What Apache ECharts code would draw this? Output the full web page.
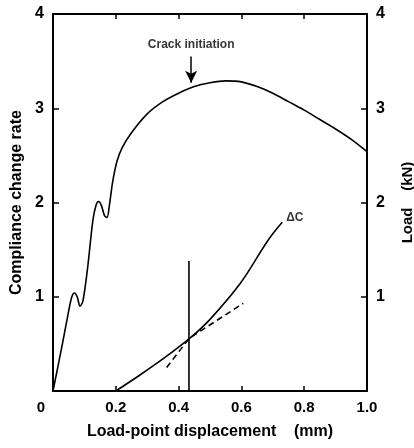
<!DOCTYPE html>
<html>
<head>
<meta charset="utf-8">
<script src="https://cdn.jsdelivr.net/npm/echarts@6/dist/echarts.min.js"></script>
<style>html,body{margin:0;padding:0;background:#fff}#c{width:414px;height:448px}</style>
</head>
<body>
<div id="c"></div>
<script>
// Load curve (right axis, kN) vs load-point displacement (mm)
const loadX = [0, 0.03, 0.05, 0.06, 0.068, 0.077, 0.086, 0.095, 0.11, 0.127, 0.137, 0.145, 0.154, 0.164, 0.172, 0.18, 0.19, 0.204, 0.22, 0.25, 0.3, 0.35, 0.4, 0.45, 0.5, 0.55, 0.6, 0.65, 0.7, 0.75, 0.8, 0.85, 0.9, 0.95, 1.0];
const loadY = [0, 0.5, 0.85, 1.0, 1.04, 1.0, 0.9, 0.95, 1.3, 1.81, 1.97, 2.01, 1.97, 1.86, 1.84, 1.98, 2.22, 2.44, 2.58, 2.74, 2.94, 3.07, 3.16, 3.23, 3.27, 3.29, 3.28, 3.23, 3.16, 3.07, 2.98, 2.88, 2.78, 2.67, 2.54];
// Compliance change rate ΔC (left axis)
const dcX = [0.2, 0.277, 0.35, 0.436, 0.5, 0.596, 0.685, 0.73];
const dcY = [0, 0.17, 0.34, 0.56, 0.76, 1.14, 1.6, 1.79];
// Crack initiation vertical line and tangent lines (dashed)
const crackX = [0.433, 0.433];
const crackY = [0, 1.38];
const tanX = [0.362, 0.434, 0.606];
const tanY = [0.25, 0.56, 0.93];
// Crack initiation arrow and labels
const arrowStart = [0.44, 3.55];
const arrowEnd = [0.44, 3.27];
const crackLabelPos = [0.44, 3.67];
const dcLabelPos = [0.77, 1.84];
const yTicks = [1, 2, 3, 4];

const zip = (a, b) => a.map((v, i) => [v, b[i]]);
const F = 'Liberation Sans, Arial, sans-serif';
const chart = echarts.init(document.getElementById('c'), null, {renderer: 'canvas'});
const lineAx = {show: true, onZero: false, lineStyle: {color: '#000', width: 2}};
const tick = {show: true, inside: true, length: 5, lineStyle: {color: '#000', width: 1.5}};
chart.setOption({
  animation: false,
  backgroundColor: '#fff',
  grid: {left: 53, right: 47, top: 14, bottom: 57, containLabel: false, outerBoundsMode: 'none'},
  xAxis: [{
    type: 'value', min: 0, max: 1, interval: 0.2, position: 'bottom',
    axisLine: lineAx, axisTick: tick, splitLine: {show: false},
    axisLabel: {
      color: '#000', fontFamily: F, fontWeight: 'bold', fontSize: 15, margin: 9,
      formatter: v => v === 0 ? '{z|0}' : v.toFixed(1),
      rich: {z: {fontFamily: F, fontWeight: 'bold', fontSize: 15, color: '#000', padding: [0, 24, 0, 0]}}
    },
    name: 'Load-point displacement    (mm)', nameLocation: 'middle', nameGap: 33,
    nameTextStyle: {color: '#000', fontFamily: F, fontWeight: 'bold', fontSize: 16}
  }, {
    type: 'value', min: 0, max: 1, interval: 0.2, position: 'top',
    axisLine: lineAx, axisTick: tick,
    axisLabel: {show: false}, splitLine: {show: false}
  }],
  yAxis: [{
    type: 'value', min: 0, max: 4, interval: 1, position: 'left',
    axisLine: lineAx, axisTick: Object.assign({}, tick, {length: 6}), splitLine: {show: false},
    axisLabel: {color: '#000', fontFamily: F, fontWeight: 'bold', fontSize: 16, margin: 9, showMinLabel: false,
      formatter: v => yTicks.includes(v) ? String(v) : ''},
    name: 'Compliance change rate', nameLocation: 'middle', nameGap: 26, nameRotate: 90,
    nameTextStyle: {color: '#000', fontFamily: F, fontWeight: 'bold', fontSize: 16}
  }, {
    type: 'value', min: 0, max: 4, interval: 1, position: 'right',
    axisLine: lineAx, axisTick: Object.assign({}, tick, {length: 6}), splitLine: {show: false},
    axisLabel: {color: '#000', fontFamily: F, fontWeight: 'bold', fontSize: 16, margin: 9, showMinLabel: false,
      formatter: v => yTicks.includes(v) ? String(v) : ''},
    name: 'Load    (kN)', nameLocation: 'middle', nameGap: 33, nameRotate: 90,
    nameTextStyle: {color: '#000', fontFamily: F, fontWeight: 'bold', fontSize: 15}
  }],
  series: [
    {type: 'line', name: 'Load', xAxisIndex: 0, yAxisIndex: 1, data: zip(loadX, loadY),
     smooth: 0.3, showSymbol: false, lineStyle: {color: '#000', width: 1.6},
     markLine: {silent: true, symbol: ['none', 'arrow'], symbolSize: [9, 12],
       lineStyle: {color: '#000', width: 1.5, type: 'solid'}, label: {show: false},
       data: [[{coord: arrowStart}, {coord: arrowEnd}]]}},
    {type: 'line', name: 'dC', xAxisIndex: 0, yAxisIndex: 0, data: zip(dcX, dcY),
     smooth: 0.35, showSymbol: false, lineStyle: {color: '#000', width: 1.6}},
    {type: 'line', name: 'crack', xAxisIndex: 0, yAxisIndex: 0, data: zip(crackX, crackY),
     showSymbol: false, lineStyle: {color: '#000', width: 1.6}},
    {type: 'line', name: 'tangent', xAxisIndex: 0, yAxisIndex: 0, data: zip(tanX, tanY),
     showSymbol: false, lineStyle: {color: '#000', width: 1.6, type: [6, 4]}},
    {type: 'scatter', xAxisIndex: 0, yAxisIndex: 1, symbolSize: 1, silent: true,
     itemStyle: {color: 'rgba(0,0,0,0)'},
     data: [{value: crackLabelPos, label: {show: true, position: 'inside', formatter: 'Crack initiation',
       color: '#000', textBorderWidth: 0, fontFamily: F, fontWeight: 'bold', fontSize: 12}},
            {value: dcLabelPos, label: {show: true, position: 'inside', formatter: 'ΔC',
       color: '#000', textBorderWidth: 0, fontFamily: F, fontWeight: 'bold', fontSize: 12}}]}
  ]
});
</script>
</body>
</html>
